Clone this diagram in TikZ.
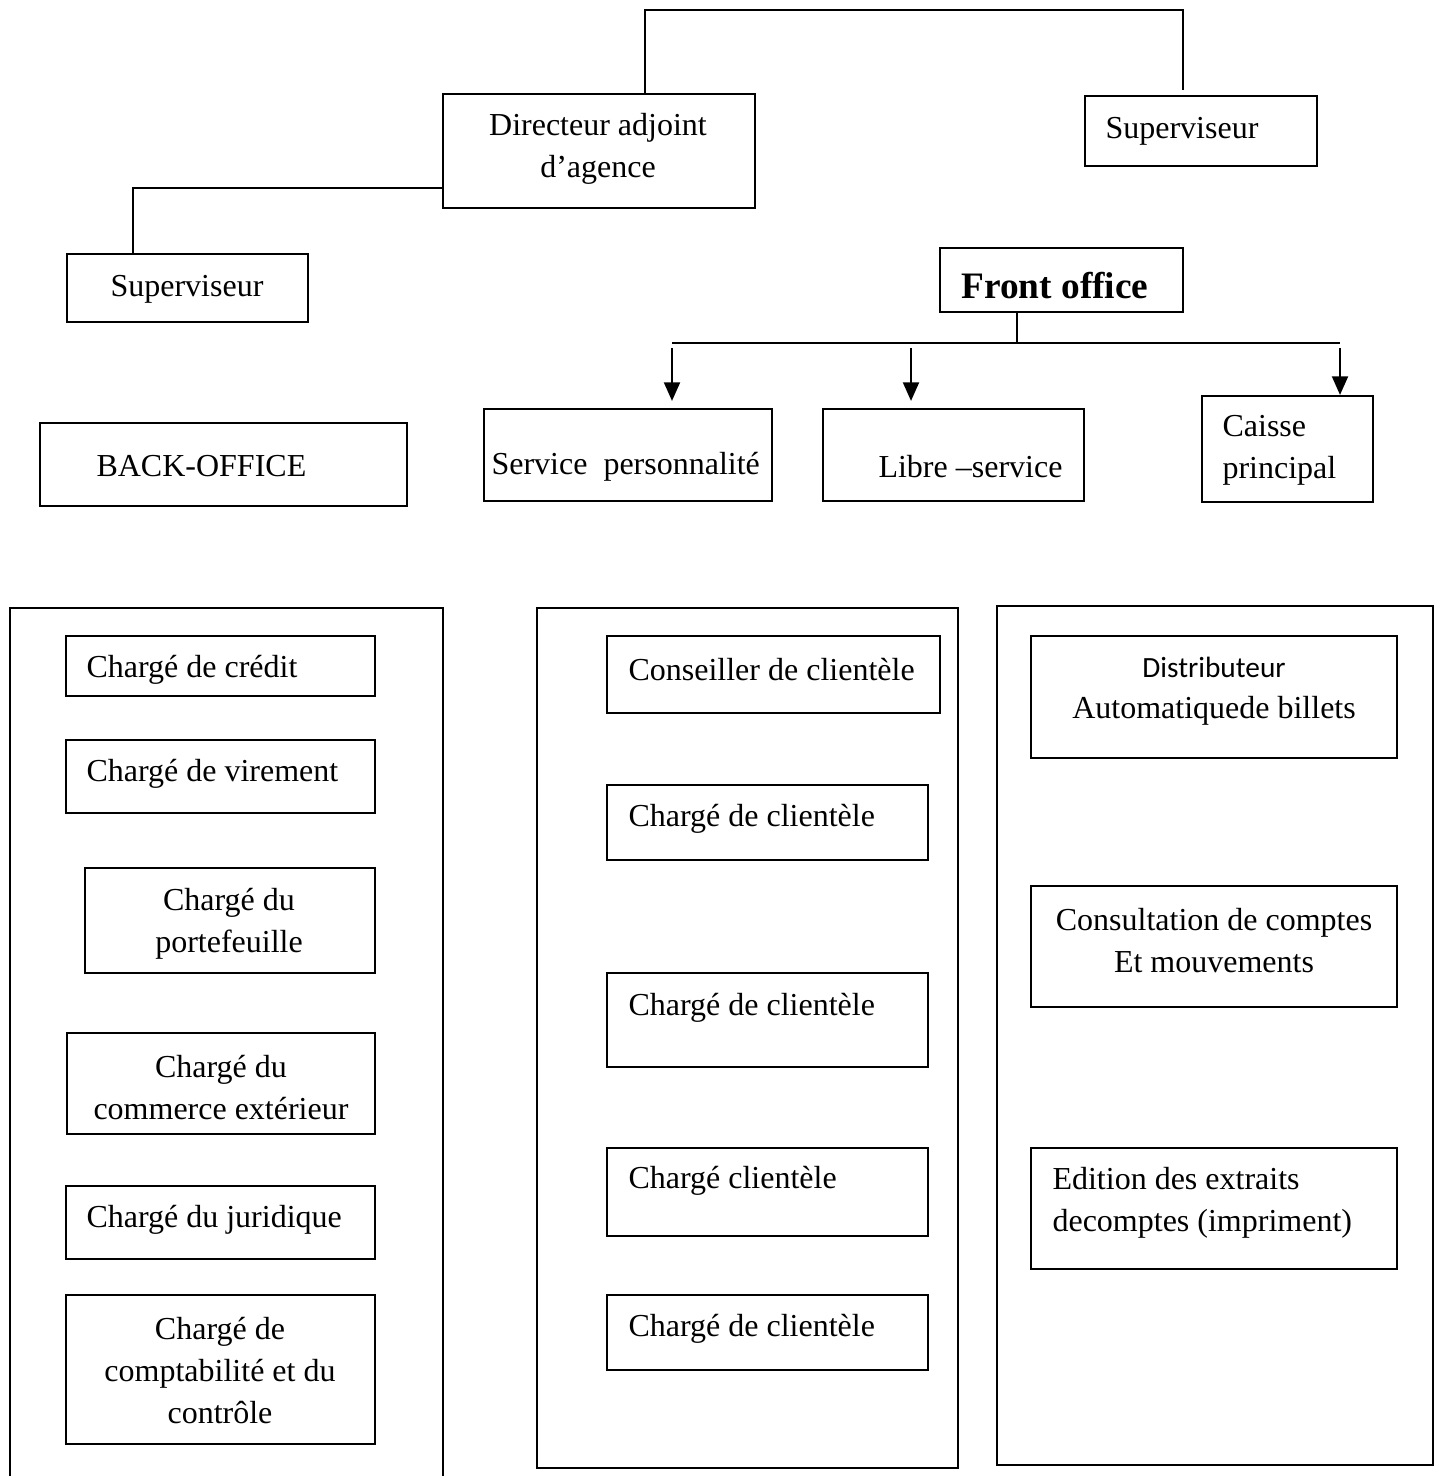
\documentclass[tikz,border=0pt]{standalone}
\usepackage{fontspec}
\setmainfont{Liberation Serif}
\newfontfamily\calibri{Carlito}
\usepackage{tikz}
\usetikzlibrary{arrows.meta}

\tikzset{
  box/.style 2 args={draw, line width=0.8pt, minimum width=#1*0.375pt,
                     minimum height=#2*0.375pt, inner sep=0pt},
  txt/.style={inner sep=0pt, yshift=-1.3pt, font=\fontsize{12pt}{15.75pt}\selectfont},
  link/.style={line width=0.6pt},
  fleche/.style={line width=0.8pt, -{Triangle[length=7pt,width=6pt]}},
  panel/.style={line width=0.8pt}
}

\begin{document}
\begin{tikzpicture}[x=0.375pt, y=-0.375pt]
\useasboundingbox (0,0) rectangle (1442,1476);

% direction
\node[box={312}{114}] (dir) at (599,151) {};
\node[txt, align=center] (dir-t) at (598,145) {Directeur adjoint\\d'agence};
\node[box={232}{70}] (supR) at (1201,131) {};
\node[txt, anchor=west] (supR-t) at (1105,128) {Superviseur};
\node[box={241}{68}] (supL) at (187.5,288) {};
\node[txt] (supL-t) at (187,286) {Superviseur};

\coordinate (haut) at (645,10);
\draw[link] (dir.north -| haut) -- (haut) -| ([xshift=-18*0.375pt,yshift=5*0.375pt]supR.north);
\draw[link] ([yshift=-37*0.375pt]dir.west) -| ([xshift=-54.5*0.375pt]supL.north);

% front office
\node[box={243}{64}] (front) at (1061.5,280) {};
\node[txt, font=\fontsize{14pt}{17pt}\selectfont\bfseries] (front-t) at (1055,282) {Front office};

\node[box={367}{83}] (back) at (223.5,464.5) {};
\node[txt, anchor=west] (back-t) at (96,463) {BACK-OFFICE};
\node[box={288}{92}] (serv) at (628,455) {};
\node[txt, anchor=west] (serv-t) at (491,463) {Service\ \ personnalité};
\node[box={261}{92}] (libre) at (953.5,455) {};
\node[txt, anchor=west] (libre-t) at (878,463) {Libre –service};
\node[box={171}{106}] (caisse) at (1287.5,449) {};
\node[txt, anchor=west, align=left] (caisse-t) at (1222,447) {Caisse\\principal};

\coordinate (barG) at (672,343);
\coordinate (barD) at (1340,343);
\draw[link] ([xshift=-44.5*0.375pt]front.south) |- (barG);
\draw[link] (barG) -- (barD);
\foreach \cible/\x/\gap in {serv/672/7, libre/911/7, caisse/1340/0}
  \draw[fleche, shorten >=\gap*0.375pt] (\x,348) -- (\x,0 |- \cible.north);

% colonnes
\draw[panel] (10,1476) -- (10,608) -- (443,608) -- (443,1476);
\draw[panel] (537,608) rectangle (958,1468);
\draw[panel] (997,606) rectangle (1433,1465);

% back office
\node[box={309}{60}] (credit) at (220.5,666) {};
\node[txt, anchor=west] (credit-t) at (86,666) {Chargé de crédit};
\node[box={309}{73}] (virement) at (220.5,776.5) {};
\node[txt, anchor=west] (virement-t) at (86,770) {Chargé de virement};
\node[box={290}{105}] (portef) at (230,920.5) {};
\node[txt, align=center] (portef-t) at (229,920) {Chargé du\\portefeuille};
\node[box={308}{101}] (commerce) at (221,1083.5) {};
\node[txt, align=center] (commerce-t) at (221,1084) {Chargé du\\commerce extérieur};
\node[box={309}{73}] (jurid) at (220.5,1222.5) {};
\node[txt, anchor=west] (jurid-t) at (86,1216) {Chargé du juridique};
\node[box={309}{149}] (compta) at (220.5,1369.5) {};
\node[txt, align=center] (compta-t) at (220,1367) {Chargé de\\comptabilité et du\\contrôle};

% front office : clientele
\node[box={333}{77}] (conseil) at (773.5,674.5) {};
\node[txt, anchor=west] (conseil-t) at (628,666) {Conseiller de clientèle};
\foreach \n/\cy/\h/\ty/\t in {1/822.5/75/815/Chargé de clientèle,
                              2/1020/94/1004/Chargé de clientèle,
                              3/1192/88/1177/Chargé clientèle,
                              4/1332.5/75/1325/Chargé de clientèle}{
  \node[box={321}{\h}] (cli-\n) at (767.5,\cy) {};
  \node[txt, anchor=west] (cli-\n-t) at (628,\ty) {\t};
}

% libre service
\node[box={366}{122}] (dab) at (1214,697) {};
\node[txt, font=\calibri\fontsize{11pt}{13pt}\selectfont] (dab-t1) at (1214,664) {Distributeur};
\node[txt] (dab-t2) at (1214,707) {Automatiquede billets};
\node[box={366}{121}] (consult) at (1214,946.5) {};
\node[txt, align=center] (consult-t) at (1214,937) {Consultation de comptes\\Et mouvements};
\node[box={366}{121}] (edition) at (1214,1208.5) {};
\node[txt, anchor=west, align=left] (edition-t) at (1052,1199) {Edition des extraits\\decomptes (impriment)};
\end{tikzpicture}
\end{document}
